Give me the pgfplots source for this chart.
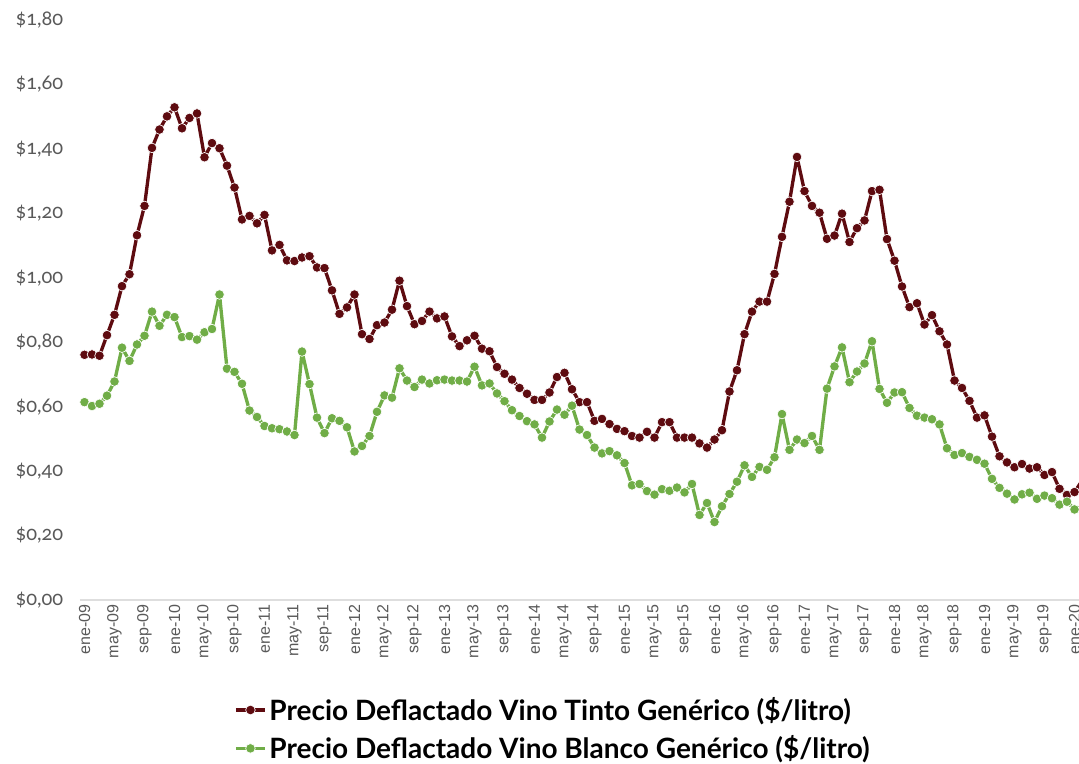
\documentclass[border=0pt]{standalone}
\usepackage{pgfplots}
\pgfplotsset{compat=1.18}
\usepackage{pgfplotstable}
\usepackage{fontspec}
\setmainfont{Lato}
\newfontfamily\tickfont{Liberation Sans}
\newfontfamily\yfont[Numbers=OldStyle]{Lato}
\definecolor{tinto}{RGB}{94,11,16}
\definecolor{blanco}{RGB}{112,173,71}
\definecolor{ticktxt}{RGB}{89,89,89}

\pgfplotstableread{
i v
0 0.761
1 0.762
2 0.758
3 0.822
4 0.885
5 0.974
6 1.011
7 1.132
8 1.223
9 1.403
10 1.460
11 1.501
12 1.529
13 1.464
14 1.496
15 1.510
16 1.374
17 1.418
18 1.402
19 1.348
20 1.280
21 1.181
22 1.192
23 1.169
24 1.195
25 1.085
26 1.102
27 1.054
28 1.052
29 1.063
30 1.067
31 1.032
32 1.030
33 0.961
34 0.888
35 0.908
36 0.948
37 0.825
38 0.810
39 0.853
40 0.861
41 0.901
42 0.991
43 0.912
44 0.856
45 0.866
46 0.895
47 0.874
48 0.880
49 0.818
50 0.788
51 0.806
52 0.820
53 0.780
54 0.772
55 0.723
56 0.702
57 0.684
58 0.658
59 0.640
60 0.621
61 0.621
62 0.644
63 0.692
64 0.705
65 0.654
66 0.614
67 0.614
68 0.556
69 0.562
70 0.546
71 0.531
72 0.524
73 0.509
74 0.504
75 0.522
76 0.504
77 0.552
78 0.552
79 0.504
80 0.504
81 0.504
82 0.486
83 0.473
84 0.498
85 0.527
86 0.647
87 0.713
88 0.825
89 0.895
90 0.926
91 0.926
92 1.012
93 1.127
94 1.236
95 1.375
96 1.269
97 1.223
98 1.202
99 1.121
100 1.131
101 1.199
102 1.111
103 1.154
104 1.178
105 1.269
106 1.273
107 1.120
108 1.053
109 0.973
110 0.909
111 0.921
112 0.855
113 0.884
114 0.834
115 0.793
116 0.681
117 0.658
118 0.618
119 0.566
120 0.573
121 0.507
122 0.446
123 0.427
124 0.412
125 0.422
126 0.408
127 0.412
128 0.388
129 0.397
130 0.345
131 0.326
132 0.335
133 0.370
}\tinto

\pgfplotstableread{
i v
0 0.614
1 0.602
2 0.609
3 0.634
4 0.678
5 0.783
6 0.742
7 0.793
8 0.820
9 0.895
10 0.851
11 0.885
12 0.878
13 0.816
14 0.819
15 0.808
16 0.831
17 0.841
18 0.948
19 0.718
20 0.708
21 0.671
22 0.588
23 0.568
24 0.540
25 0.533
26 0.530
27 0.523
28 0.512
29 0.771
30 0.670
31 0.566
32 0.518
33 0.564
34 0.556
35 0.536
36 0.461
37 0.478
38 0.509
39 0.584
40 0.635
41 0.628
42 0.719
43 0.681
44 0.661
45 0.684
46 0.672
47 0.682
48 0.684
49 0.681
50 0.681
51 0.678
52 0.724
53 0.666
54 0.672
55 0.641
56 0.617
57 0.589
58 0.571
59 0.555
60 0.545
61 0.504
62 0.554
63 0.591
64 0.575
65 0.603
66 0.529
67 0.512
68 0.473
69 0.455
70 0.462
71 0.449
72 0.425
73 0.356
74 0.360
75 0.338
76 0.327
77 0.344
78 0.339
79 0.349
80 0.334
81 0.360
82 0.264
83 0.301
84 0.242
85 0.291
86 0.329
87 0.367
88 0.418
89 0.382
90 0.413
91 0.404
92 0.443
93 0.577
94 0.466
95 0.498
96 0.487
97 0.509
98 0.466
99 0.656
100 0.725
101 0.784
102 0.676
103 0.709
104 0.734
105 0.803
106 0.655
107 0.612
108 0.644
109 0.645
110 0.596
111 0.572
112 0.566
113 0.561
114 0.545
115 0.471
116 0.450
117 0.456
118 0.444
119 0.435
120 0.423
121 0.376
122 0.348
123 0.330
124 0.312
125 0.328
126 0.333
127 0.314
128 0.324
129 0.316
130 0.296
131 0.305
132 0.281
133 0.290
}\blanco

\begin{document}
\begin{tikzpicture}
\useasboundingbox (0,0) rectangle (809.25pt,573pt);
\begin{axis}[
  at={(60pt,123pt)}, anchor=south west,
  scale only axis, width=749.25pt, height=435pt,
  xmin=-0.6, xmax=132.6, ymin=0, ymax=1.8,
  axis x line*=bottom, axis y line*=left,
  y axis line style={draw=none},
  x axis line style={draw=black!13, line width=1.2pt},
  major tick length=0pt,
  ytick={0,0.2,...,1.8},
  yticklabels={\$0{,}00,\$0{,}20,\$0{,}40,\$0{,}60,\$0{,}80,\$1{,}00,\$1{,}20,\$1{,}40,\$1{,}60,\$1{,}80},
  yticklabel style={font=\yfont\fontsize{15}{16}\selectfont, text=ticktxt, anchor=east, xshift=-9pt},
  xtick={0,4,...,132},
  xticklabels={ene-09,may-09,sep-09,ene-10,may-10,sep-10,ene-11,may-11,sep-11,ene-12,may-12,sep-12,ene-13,may-13,sep-13,ene-14,may-14,sep-14,ene-15,may-15,sep-15,ene-16,may-16,sep-16,ene-17,may-17,sep-17,ene-18,may-18,sep-18,ene-19,may-19,sep-19,ene-20},
  xticklabel style={font=\tickfont\fontsize{12}{13}\selectfont, text=ticktxt, rotate=90, anchor=east, yshift=0pt},
  legend style={at={(0.154,-0.163)}, anchor=north west, draw=none, fill=none,
    font=\bfseries\fontsize{21}{23}\selectfont, row sep=6pt, inner sep=0pt},
  legend cell align=left,
  legend image code/.code={\draw[#1, mark repeat=2, mark phase=2] plot coordinates {(0pt,0pt) (11pt,0pt) (22pt,0pt)};},
  clip=true,
]
\addplot[color=tinto, line width=2.5pt, line join=round, mark=*, mark size=3.6pt, mark options={fill=tinto, draw=white, line width=0.5pt}] table[x=i,y=v]{\tinto};
\addlegendentry{Precio Deflactado Vino Tinto Genérico (\$/litro)}
\addplot[color=blanco, line width=2.5pt, line join=round, mark=*, mark size=3.6pt, mark options={fill=blanco, draw=white, line width=0.5pt}] table[x=i,y=v]{\blanco};
\addlegendentry{Precio Deflactado Vino Blanco Genérico (\$/litro)}
\end{axis}
\end{tikzpicture}
\end{document}
